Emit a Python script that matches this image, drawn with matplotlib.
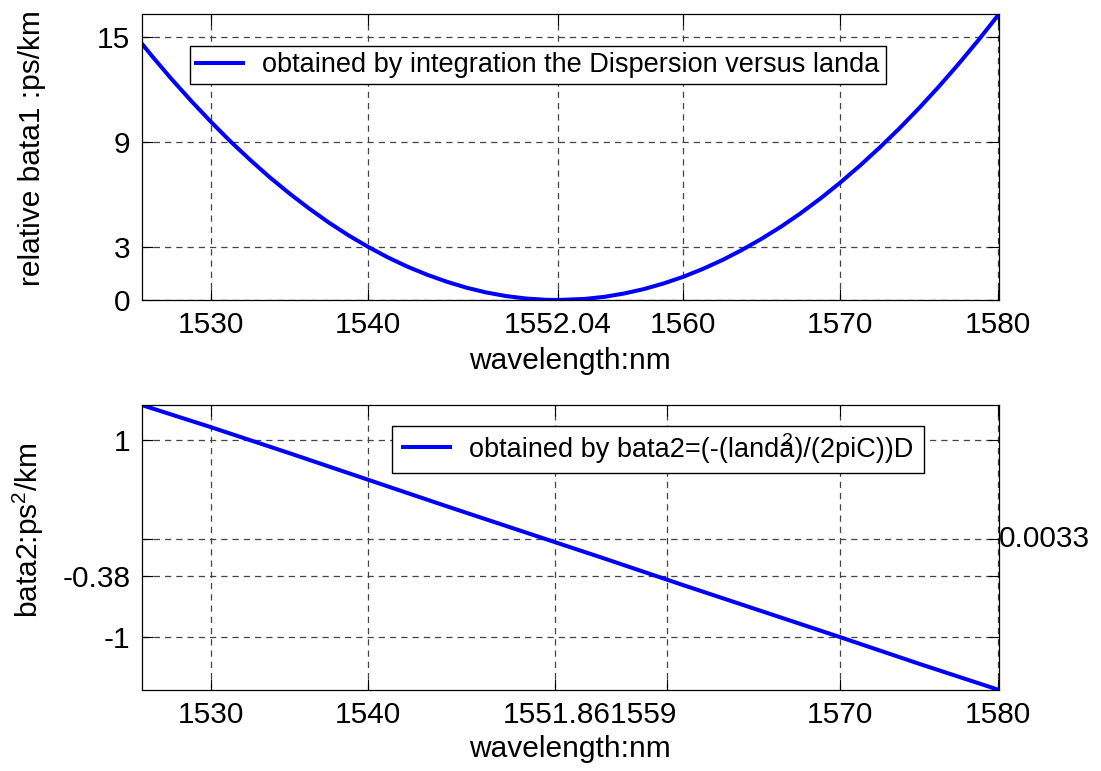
import numpy as np
import matplotlib.pyplot as plt
import matplotlib.transforms as mtransforms

plt.rcParams['font.family'] = ['Liberation Sans', 'DejaVu Sans']
plt.rcParams['mathtext.fontset'] = 'custom'
plt.rcParams['mathtext.rm'] = 'Liberation Sans'
plt.rcParams['mathtext.it'] = 'Liberation Sans'

# relative beta1 (integral of the dispersion), ps/km
lam1 = [1525.6, 1526.25, 1527.5, 1528.75, 1530, 1531.25, 1532.5, 1533.75, 1535, 1536.25,
        1537.5, 1538.75, 1540, 1541.25, 1542.5, 1543.75, 1545, 1546.25, 1547.5, 1548.75,
        1550, 1551.25, 1552.04, 1553.75, 1555, 1556.25, 1557.5, 1558.75, 1560, 1561.25,
        1562.5, 1563.75, 1565, 1566.25, 1567.5, 1568.75, 1570, 1571.25, 1572.5, 1573.75,
        1575, 1576.25, 1577.5, 1578.75, 1580.08]
bata1 = [14.66, 13.94, 12.62, 11.37, 10.18, 9.05, 8.00, 7.00, 6.08, 5.22,
         4.42, 3.69, 3.03, 2.43, 1.90, 1.44, 1.04, 0.70, 0.43, 0.226,
         0.087, 0.013, 0.0, 0.061, 0.18, 0.37, 0.62, 0.94, 1.32, 1.77,
         2.28, 2.86, 3.50, 4.20, 4.97, 5.81, 6.71, 7.68, 8.71, 9.80,
         10.96, 12.18, 13.47, 14.82, 16.33]

# beta2 from the dispersion, ps^2/km
lam2 = [1525.6, 1530, 1535, 1540, 1545, 1550, 1555, 1560, 1565, 1570, 1575, 1580.08]
bata2 = [1.36, 1.135, 0.87, 0.60, 0.33, 0.065, -0.20, -0.47, -0.735, -1.0, -1.27, -1.536]

xticks1 = [1530, 1540, 1552.04, 1560, 1570, 1580]
xlabels1 = ['1530', '1540', '1552.04', '1560', '1570', '1580']
yticks1 = [0, 3, 9, 15]
xticks2 = [1530, 1540, 1551.861559, 1559, 1570, 1580]
xlabels2 = ['1530', '1540', '1551.861559', '', '1570', '1580']
yticks2 = [-1, -0.38, 0.0033, 1]
ylabels2 = ['-1', '-0.38', '', '1']

fs = 21.5
lfs = 19.5
fig = plt.figure(figsize=(11.01, 7.71), dpi=100)
ax1 = fig.add_axes([0.1286, 0.6109, 0.7788, 0.3709])
ax2 = fig.add_axes([0.1286, 0.1051, 0.7788, 0.3696])

for ax in (ax1, ax2):
    ax.grid(True, color='#444444', linestyle=(0, (5, 4)), linewidth=0.9)
    ax.tick_params(direction='in', length=8, width=0.8, top=True, right=True,
                   labelsize=fs, pad=8)
    for s in ax.spines.values():
        s.set_linewidth(0.9)
    ax.set_xlim(1525.6, 1580.08)

ax1.plot(lam1, bata1, color='#0000ff', linewidth=2.9,
         label='obtained by integration the Dispersion versus landa')
ax1.set_ylim(0, 16.33)
ax1.set_xticks(xticks1)
ax1.set_xticklabels(xlabels1)
ax1.set_yticks(yticks1)
ax1.set_xlabel('wavelength:nm', fontsize=fs, labelpad=6)
ax1.set_ylabel('relative bata1 :ps/km', fontsize=fs)
ax1.yaxis.set_label_coords(-0.112, 0.531)
ax1.legend(loc='upper left', bbox_to_anchor=(0.0564, 0.888), borderaxespad=0,
           fontsize=lfs, fancybox=False, framealpha=1, edgecolor='black',
           handlelength=1.75, handletextpad=0.7, borderpad=0.22)

ax2.plot(lam2, bata2, color='#0000ff', linewidth=2.9,
         label='obtained by bata2=(-(landa)/(2piC))D')
ax2.set_ylim(-1.536, 1.36)
ax2.set_xticks(xticks2)
ax2.set_xticklabels(xlabels2)
ax2.set_yticks(yticks2)
ax2.set_yticklabels(ylabels2)
ax2.set_xlabel('wavelength:nm', fontsize=fs, labelpad=4)
ax2.set_ylabel('bata2:ps$^2$/km', fontsize=fs)
ax2.yaxis.set_label_coords(-0.112, 0.561)
# the long tick label starts a little left of its tick
lbl = ax2.get_xticklabels()[2]
lbl.set_horizontalalignment('left')
lbl.set_transform(lbl.get_transform() + mtransforms.ScaledTranslation(-52 / 100, 0, fig.dpi_scale_trans))
ax2.text(1.0, 0.0033, '0.0033', transform=ax2.get_yaxis_transform(),
         ha='left', va='center', fontsize=fs)
leg2 = ax2.legend(loc='upper left', bbox_to_anchor=(0.292, 0.927), borderaxespad=0,
                  fontsize=lfs, fancybox=False, framealpha=1, edgecolor='black',
                  handlelength=1.75, handletextpad=0.7, borderpad=0.4)

# the squared sign sits on top of the last letter of "landa"
fig.canvas.draw()
r = fig.canvas.get_renderer()
t = leg2.get_texts()[0]
bb = t.get_window_extent(r)
tmp = fig.text(0, 0, 'obtained by bata2=(-(land', fontsize=lfs)
w0 = tmp.get_window_extent(r).width
tmp.set_text('obtained by bata2=(-(landa')
w1 = tmp.get_window_extent(r).width
tmp.remove()
xs = (bb.x0 + (w0 + w1) / 2) / fig.bbox.width
ys = (bb.y1 + 4) / fig.bbox.height
fig.text(xs, ys, '2', fontsize=14, ha='center', va='top')

fig.savefig('out.png', dpi=100)
